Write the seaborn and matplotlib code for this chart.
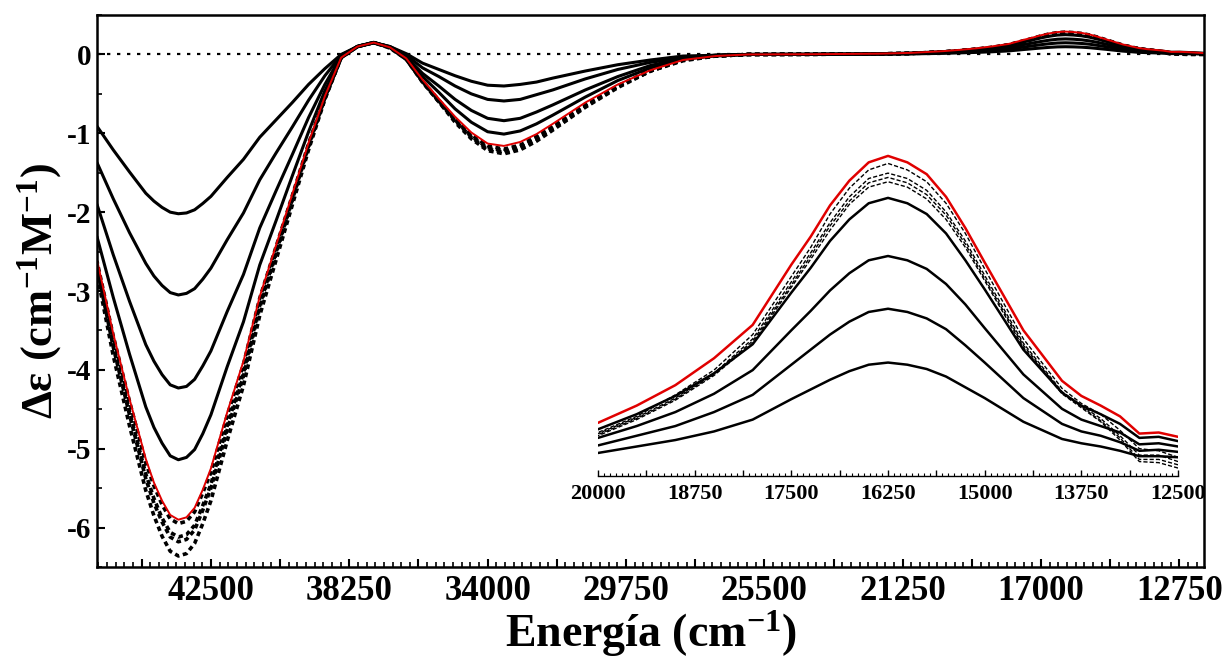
import pandas as pd
import seaborn as sns
import matplotlib.pyplot as plt
from matplotlib.ticker import MultipleLocator, AutoMinorLocator, FuncFormatter

# energy grid (cm-1) and the CD curves
energia = [46000, 45500, 45000, 44500, 44250, 44000, 43750, 43500, 43250, 43000,
           42750, 42500, 42000, 41500,
           41000, 40500, 40000, 39500, 39000, 38500, 38000, 37500, 37000, 36500,
           36000, 35500, 35000, 34500, 34000, 33500, 33000, 32500, 32000, 31000,
           30000, 29000, 28000, 27000, 26000, 24000, 22000, 21000, 20000, 19500,
           19000, 18500, 18000, 17500, 17250, 17000, 16750, 16500, 16250, 16000,
           15750, 15500, 15250, 15000, 14500, 14000, 13750, 13500, 13250, 13000,
           12750, 12500, 12000]

c1 = [-0.91, -1.21, -1.49, -1.76, -1.86, -1.94, -2.00, -2.02, -2.01, -1.97,
      -1.89, -1.80, -1.56, -1.33,
      -1.05, -0.83, -0.61, -0.38, -0.18, 0.00, 0.10, 0.15, 0.10, 0.01,
      -0.11, -0.19, -0.27, -0.34, -0.39, -0.40, -0.38, -0.35, -0.30, -0.21,
      -0.13, -0.07, -0.02, -0.01, 0.0, 0.001, 0.003, 0.007, 0.014, 0.020,
      0.026, 0.034, 0.045, 0.064, 0.073, 0.082, 0.090, 0.096, 0.098, 0.096,
      0.092, 0.085, 0.075, 0.065, 0.043, 0.027, 0.023, 0.020, 0.016, 0.011,
      0.011, 0.010, 0.006]
c2 = [-1.37, -1.83, -2.26, -2.65, -2.81, -2.93, -3.02, -3.05, -3.03, -2.97,
      -2.85, -2.71, -2.35, -2.01,
      -1.59, -1.25, -0.92, -0.58, -0.27, -0.01, 0.10, 0.15, 0.10, -0.01,
      -0.17, -0.28, -0.40, -0.50, -0.57, -0.59, -0.57, -0.51, -0.45, -0.31,
      -0.19, -0.10, -0.04, -0.01, 0.0, 0.001, 0.005, 0.010, 0.021, 0.030,
      0.039, 0.052, 0.068, 0.096, 0.110, 0.124, 0.136, 0.145, 0.148, 0.145,
      0.139, 0.129, 0.114, 0.098, 0.065, 0.041, 0.034, 0.030, 0.024, 0.016,
      0.017, 0.015, 0.009]
c3 = [-1.90, -2.54, -3.13, -3.68, -3.89, -4.06, -4.19, -4.23, -4.21, -4.12,
      -3.95, -3.76, -3.26, -2.79,
      -2.20, -1.73, -1.27, -0.80, -0.38, -0.02, 0.10, 0.15, 0.09, -0.03,
      -0.24, -0.40, -0.57, -0.71, -0.81, -0.84, -0.81, -0.73, -0.64, -0.45,
      -0.28, -0.14, -0.05, -0.01, 0.0, 0.002, 0.007, 0.014, 0.028, 0.039,
      0.052, 0.069, 0.091, 0.128, 0.146, 0.165, 0.181, 0.193, 0.197, 0.193,
      0.185, 0.171, 0.152, 0.130, 0.087, 0.055, 0.045, 0.039, 0.033, 0.022,
      0.023, 0.020, 0.012]
c4 = [-2.31, -3.08, -3.80, -4.47, -4.73, -4.93, -5.09, -5.14, -5.11, -5.01,
      -4.81, -4.57, -3.96, -3.39,
      -2.67, -2.11, -1.54, -0.98, -0.46, -0.03, 0.10, 0.15, 0.09, -0.04,
      -0.28, -0.48, -0.69, -0.86, -0.98, -1.01, -0.97, -0.88, -0.77, -0.54,
      -0.33, -0.17, -0.06, -0.02, 0.0, 0.003, 0.009, 0.018, 0.036, 0.050,
      0.067, 0.088, 0.115, 0.163, 0.186, 0.211, 0.231, 0.246, 0.251, 0.246,
      0.236, 0.218, 0.193, 0.166, 0.110, 0.070, 0.058, 0.050, 0.041, 0.028,
      0.029, 0.025, 0.015]
rojo = [-2.60, -3.54, -4.37, -5.13, -5.43, -5.66, -5.84, -5.90, -5.87, -5.75,
        -5.52, -5.25, -4.54, -3.89,
        -3.07, -2.42, -1.77, -1.12, -0.53, -0.04, 0.10, 0.15, 0.09, -0.05,
        -0.32, -0.56, -0.79, -0.99, -1.13, -1.16, -1.11, -1.01, -0.88, -0.61,
        -0.38, -0.20, -0.07, -0.02, 0.0, 0.003, 0.010, 0.020, 0.042, 0.058,
        0.077, 0.102, 0.133, 0.189, 0.215, 0.244, 0.267, 0.284, 0.290, 0.284,
        0.273, 0.252, 0.223, 0.191, 0.128, 0.081, 0.067, 0.058, 0.048, 0.032,
        0.033, 0.029, 0.017]
d1 = [-2.62, -3.57, -4.40, -5.18, -5.47, -5.71, -5.89, -5.95, -5.92, -5.80,
      -5.56, -5.30, -4.58, -3.93,
      -3.09, -2.44, -1.79, -1.13, -0.54, -0.04, 0.10, 0.15, 0.09, -0.06,
      -0.34, -0.58, -0.82, -1.02, -1.16, -1.20, -1.15, -1.04, -0.91, -0.64,
      -0.40, -0.20, -0.07, -0.02, 0.0, 0.002, 0.007, 0.014, 0.033, 0.048,
      0.068, 0.091, 0.124, 0.178, 0.205, 0.236, 0.260, 0.277, 0.283, 0.277,
      0.266, 0.246, 0.218, 0.185, 0.120, 0.074, 0.060, 0.050, 0.035, 0.018,
      0.016, 0.010, 0.006]
d2 = [-2.68, -3.67, -4.53, -5.32, -5.63, -5.88, -6.06, -6.12, -6.09, -5.97,
      -5.72, -5.45, -4.71, -4.04,
      -3.18, -2.51, -1.84, -1.16, -0.55, -0.04, 0.10, 0.15, 0.09, -0.06,
      -0.34, -0.59, -0.83, -1.04, -1.18, -1.22, -1.17, -1.06, -0.93, -0.65,
      -0.40, -0.21, -0.07, -0.02, 0.0, 0.002, 0.007, 0.013, 0.032, 0.047,
      0.065, 0.088, 0.120, 0.173, 0.200, 0.228, 0.252, 0.269, 0.274, 0.269,
      0.258, 0.238, 0.211, 0.179, 0.116, 0.071, 0.058, 0.046, 0.030, 0.012,
      0.012, 0.006, 0.004]
d3 = [-2.70, -3.71, -4.57, -5.38, -5.69, -5.93, -6.12, -6.18, -6.15, -6.03,
      -5.78, -5.50, -4.76, -4.08,
      -3.21, -2.53, -1.85, -1.17, -0.56, -0.04, 0.10, 0.15, 0.09, -0.06,
      -0.35, -0.60, -0.84, -1.05, -1.20, -1.24, -1.19, -1.08, -0.94, -0.66,
      -0.41, -0.21, -0.07, -0.02, 0.0, 0.002, 0.007, 0.013, 0.031, 0.046,
      0.064, 0.087, 0.118, 0.170, 0.197, 0.225, 0.248, 0.265, 0.270, 0.265,
      0.254, 0.235, 0.208, 0.176, 0.114, 0.070, 0.057, 0.044, 0.028, 0.008,
      0.008, 0.003, 0.002]
d4 = [-2.78, -3.82, -4.71, -5.53, -5.85, -6.11, -6.30, -6.36, -6.33, -6.20,
      -5.95, -5.66, -4.90, -4.20,
      -3.31, -2.61, -1.91, -1.21, -0.57, -0.04, 0.10, 0.15, 0.08, -0.06,
      -0.35, -0.60, -0.86, -1.07, -1.22, -1.26, -1.21, -1.10, -0.96, -0.67,
      -0.42, -0.21, -0.08, -0.02, 0.0, 0.002, 0.007, 0.013, 0.030, 0.045,
      0.063, 0.086, 0.116, 0.168, 0.194, 0.221, 0.245, 0.261, 0.266, 0.261,
      0.250, 0.231, 0.205, 0.174, 0.112, 0.069, 0.056, 0.043, 0.026, 0.006,
      0.005, 0.000, 0.000]

curvas = {'c1': c1, 'c2': c2, 'c3': c3, 'c4': c4,
          'd1': d1, 'd2': d2, 'd3': d3, 'd4': d4, 'rojo': rojo}
df = pd.DataFrame({'energia': energia, **curvas})
df = df.melt(id_vars='energia', var_name='curva', value_name='de')

negro = {'axes.edgecolor': 'black', 'text.color': 'black', 'axes.labelcolor': 'black',
         'xtick.color': 'black', 'ytick.color': 'black'}
sns.set_style('ticks', negro)
plt.rcParams['font.family'] = ['Liberation Serif', 'DejaVu Serif']
plt.rcParams['font.weight'] = 'bold'
plt.rcParams['mathtext.fontset'] = 'custom'
plt.rcParams['mathtext.rm'] = 'Liberation Serif:bold'
plt.rcParams['mathtext.bf'] = 'Liberation Serif:bold'
plt.rcParams['mathtext.it'] = 'Liberation Serif:bold'
plt.rcParams['axes.unicode_minus'] = False

# line styles: main plot / inset
estilo_main = {'c': dict(color='black', lw=2.2),
               'd': dict(color='black', lw=2.6, linestyle=(0, (1.3, 1.0))),
               'r': dict(color='#e00000', lw=1.4)}
estilo_ins = {'c': dict(color='black', lw=1.8),
              'd': dict(color='black', lw=1.0, linestyle=(0, (3, 1.5))),
              'r': dict(color='#e00000', lw=1.8)}

fig = plt.figure(figsize=(12.32, 6.59), dpi=100)
ax = fig.add_axes([0.0787, 0.1396, 0.8985, 0.8376])

ax.axhline(0, color='black', lw=1.6, linestyle=(0, (1.5, 3.0)), zorder=1)
for nombre in curvas:
    sub = df[df['curva'] == nombre]
    sns.lineplot(data=sub, x='energia', y='de', ax=ax, legend=False,
                 **estilo_main[nombre[0]])

ax.set_xlim(46000, 12000)
ax.set_ylim(-6.5, 0.5)
ax.xaxis.set_major_locator(MultipleLocator(2125))
ax.xaxis.set_minor_locator(AutoMinorLocator(8))
ax.xaxis.set_major_formatter(FuncFormatter(
    lambda v, p: f'{v:.0f}' if round(v / 2125) % 2 == 0 else ''))
ax.yaxis.set_major_locator(MultipleLocator(1))
ax.yaxis.set_minor_locator(AutoMinorLocator(2))
ax.yaxis.set_major_formatter(FuncFormatter(lambda v, p: f'{int(round(v))}'))
ax.tick_params(which='both', direction='in', top=False, right=False)
ax.tick_params(which='major', length=6, width=1.5)
ax.tick_params(which='minor', length=3.5, width=1.2)
ax.tick_params(axis='x', labelsize=25, pad=6)
ax.tick_params(axis='y', labelsize=21, pad=4)
for s in ax.spines.values():
    s.set_linewidth(1.8)
ax.set_xlabel('Energía (cm$^{-1}$)', fontsize=33, fontweight='bold', labelpad=0)
ax.set_ylabel('Δε (cm$^{-1}$M$^{-1}$)', fontsize=32, fontweight='bold', labelpad=2)

# inset: visible band zoom
axi = fig.add_axes([0.4854, 0.2777, 0.4708, 0.4947])
axi.patch.set_alpha(0)
ins = df[(df['energia'] <= 20000) & (df['energia'] >= 12500)]
for nombre in curvas:
    sub = ins[ins['curva'] == nombre]
    sns.lineplot(data=sub, x='energia', y='de', ax=axi, legend=False,
                 **estilo_ins[nombre[0]])
axi.set_xlim(20000, 12500)
axi.set_ylim(-0.0074, 0.2955)
for lado in ['left', 'right', 'top']:
    axi.spines[lado].set_visible(False)
axi.spines['bottom'].set_linewidth(1.0)
axi.set_yticks([])
axi.xaxis.set_major_locator(MultipleLocator(625))
axi.xaxis.set_minor_locator(AutoMinorLocator(8))
axi.xaxis.set_major_formatter(FuncFormatter(
    lambda v, p: f'{v:.0f}' if round(v / 625) % 2 == 0 else ''))
axi.tick_params(which='both', direction='in', top=False)
axi.tick_params(which='major', length=4, width=1.0, labelsize=16, pad=6)
axi.tick_params(which='minor', length=2, width=0.8)
axi.set_xlabel('')
axi.set_ylabel('')

fig.savefig('out.png', dpi=100)
